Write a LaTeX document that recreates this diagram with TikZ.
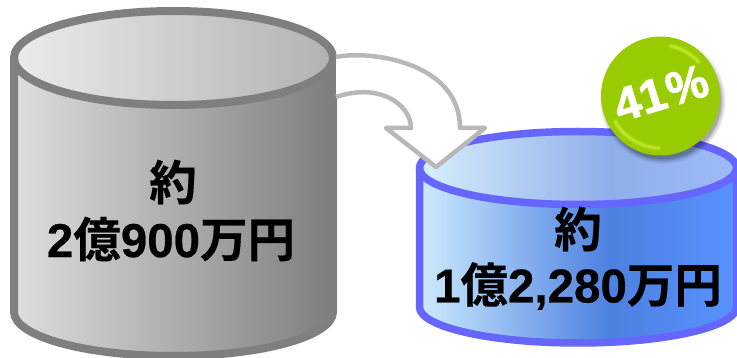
\documentclass[tikz,border=0pt]{standalone}
\usepackage{fontspec}
\setmainfont[FakeBold=0.5]{Liberation Sans Bold}
\newfontfamily\cjkfont[FakeBold=0.4]{Noto Sans CJK JP Bold}
\newfontfamily\pctfont[FakeBold=1.6]{Liberation Sans Bold}
\usetikzlibrary{calc}
\newcommand{\jp}[1]{{\cjkfont #1}}
\definecolor{graybodyA}{HTML}{DEDEDE}
\definecolor{graybodyB}{HTML}{7E7E7E}
\definecolor{graytopA}{HTML}{EBEBEB}
\definecolor{graytopB}{HTML}{B2B2B2}
\definecolor{bluebodyA}{HTML}{CDEBFF}
\definecolor{bluebodyB}{HTML}{4D80E0}
\definecolor{bluebodyC}{HTML}{5792FF}
\definecolor{bluetopA}{HTML}{D8EFFD}
\definecolor{bluetopB}{HTML}{90AEEA}
\definecolor{bluetopC}{HTML}{9CBBF8}
\definecolor{grayline}{HTML}{7F7F7F}
\definecolor{blueline}{HTML}{6666FF}
\definecolor{arrowline}{HTML}{B8B8B8}
\definecolor{badge}{HTML}{99CC00}
\definecolor{badgelight}{HTML}{D2F840}
\pgfdeclarehorizontalshading{graybody}{100bp}{color(0bp)=(graybodyA); color(25bp)=(graybodyA); color(75bp)=(graybodyB); color(100bp)=(graybodyB)}
\pgfdeclarehorizontalshading{graytop}{100bp}{color(0bp)=(graytopA); color(25bp)=(graytopA); color(75bp)=(graytopB); color(100bp)=(graytopB)}
\pgfdeclarehorizontalshading{bluebody}{100bp}{color(0bp)=(bluebodyA); color(25bp)=(bluebodyA); color(55bp)=(bluebodyB); color(75bp)=(bluebodyC); color(100bp)=(bluebodyC)}
\pgfdeclarehorizontalshading{bluetop}{100bp}{color(0bp)=(bluetopA); color(25bp)=(bluetopA); color(55bp)=(bluetopB); color(75bp)=(bluetopC); color(100bp)=(bluetopC)}
\tikzset{
  label text/.style={font=\fontsize{47.5}{52}\selectfont, text=black, inner sep=0pt, anchor=center},
  ring/.style={line width=#1, line join=round},
}
\begin{document}
\begin{tikzpicture}[x=1pt,y=-1pt]
\useasboundingbox (0,0) rectangle (737,358);
\clip (0,0) rectangle (737,358);
% gray cylinder
\path[shading=graybody] (14,58) -- (14,312) arc[start angle=180,end angle=0,x radius=159.5,y radius=44] -- (333,58) -- cycle;
\path[shading=graytop] (173.5,58) ellipse[x radius=159.5,y radius=47];
\draw[grayline,ring=8pt] (14,58) -- (14,312) arc[start angle=180,end angle=0,x radius=159.5,y radius=44] -- (333,58);
\draw[grayline,ring=8pt] (173.5,58) ellipse[x radius=159.5,y radius=47];
% blue cylinder
\path[shading=bluebody] (419.5,168) -- (419.5,307) arc[start angle=180,end angle=0,x radius=158.5,y radius=36] -- (736.5,168) -- cycle;
\path[shading=bluetop] (578,168) ellipse[x radius=158.5,y radius=36.5];
\draw[blueline,ring=7.5pt] (419.5,168) -- (419.5,307) arc[start angle=180,end angle=0,x radius=158.5,y radius=36] -- (736.5,168);
\draw[blueline,ring=7.5pt] (578,168) ellipse[x radius=158.5,y radius=36.5];
% curved arrow
\draw[arrowline,line width=4.5pt,line join=round,fill=white]
  (336,57) .. controls (370,50) and (460,62) .. (460,128)
  -- (485,128) -- (436,167) -- (386,128) -- (411,128)
  .. controls (411,105) and (380,82) .. (336,97);
% badge shadow
\foreach \r/\o in {63/0.04,62/0.05,61/0.06,60/0.07,59/0.09,58/0.1}
  \fill[black,opacity=\o] (663,101) circle[radius=\r];
% badge
\fill[badge] (660.5,96) circle[radius=59.5];
\foreach \w/\o in {6/0.15,4/0.25,2/0.45}{
  \draw[badgelight,line width=\w pt,line cap=round,opacity=\o] (660.5,96) ++(-42:51) arc[start angle=-42,end angle=-78,radius=51];
  \draw[badgelight,line width=\w pt,line cap=round,opacity=\o] (660.5,96) ++(150:52) arc[start angle=150,end angle=92,radius=52];
}
\node[font=\fontsize{47}{52}\selectfont\pctfont,text=white,inner sep=0pt,rotate=17] (pct) at (661,93) {41\kern2pt\%};
% labels
\node[label text] (l1) at (173,182) {\jp{約}};
\node[label text] (l2) at (171,239) {2\jp{億}900\jp{万円}};
\node[label text] (r1) at (578,229) {\jp{約}};
\node[label text] (r2) at (578,286) {1\jp{億}2,280\jp{万円}};
\end{tikzpicture}
\end{document}
